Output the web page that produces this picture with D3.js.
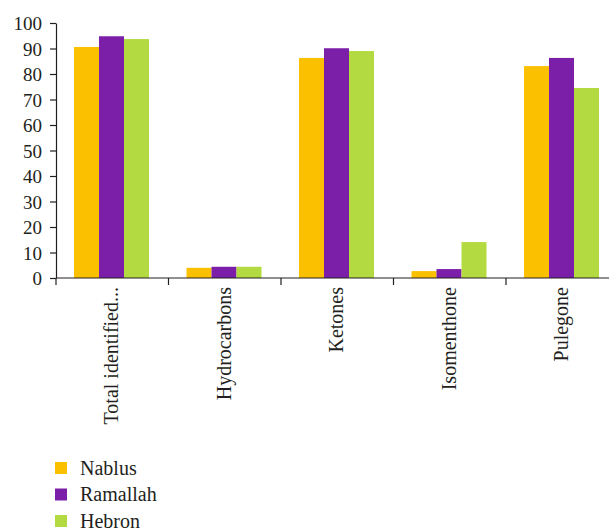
<!DOCTYPE html>
<html><head><meta charset="utf-8">
<script src="https://cdn.jsdelivr.net/npm/d3@7"></script>
<style>body{margin:0;background:#fff}svg{display:block}</style>
</head><body>
<svg id="c" width="609" height="528"></svg>
<script>
const categories = ["Total identified...", "Hydrocarbons", "Ketones", "Isomenthone", "Pulegone"];
const seriesNames = ["Nablus", "Ramallah", "Hebron"];
const nablus = [90.6, 4.0, 86.3, 2.7, 83.1];
const ramallah = [94.8, 4.4, 90.1, 3.5, 86.3];
const hebron = [93.7, 4.4, 89.0, 14.1, 74.5];
const yTicks = [0,10,20,30,40,50,60,70,80,90,100];
const colors = ["#FBC100", "#7B1FA8", "#B3DB41"];
const series = [nablus, ramallah, hebron];
const FONT = '"Liberation Serif", "Times New Roman", serif';
const INK = "#231f20";

const svg = d3.select("#c");
const x0 = d3.scaleBand().domain(categories).range([56, 618.5]);
const x1 = d3.scaleBand().domain(seriesNames).range([18, 93]);
const y = d3.scaleLinear().domain([0, 100]).range([278, 23]);

const g = svg.append("g");
categories.forEach((c, i) => {
  seriesNames.forEach((s, j) => {
    g.append("rect")
      .attr("x", x0(c) + x1(s))
      .attr("y", y(series[j][i]))
      .attr("width", x1.bandwidth())
      .attr("height", y(0) - y(series[j][i]))
      .attr("fill", colors[j]);
  });
});

// y axis
const ya = svg.append("g").attr("transform", "translate(56,0)")
  .call(d3.axisLeft(y).tickValues(yTicks).tickSize(6).tickSizeOuter(0));
ya.select(".domain").attr("stroke", INK).attr("stroke-width", 1.2);
ya.selectAll(".tick line").attr("stroke", INK).attr("stroke-width", 1.2);
ya.selectAll(".tick text").attr("x", -14).attr("dy", "0.35em")
  .style("font-size", "19px").style("font-family", FONT).attr("fill", INK);

// x axis
const xa = svg.append("g").attr("transform", "translate(0,278)");
xa.append("line").attr("x1", 56).attr("x2", 618.5).attr("y1", 0).attr("y2", 0)
  .attr("stroke", INK).attr("stroke-width", 1.2);
categories.forEach(c => {
  xa.append("line").attr("x1", x0(c)).attr("x2", x0(c)).attr("y1", 0).attr("y2", 7)
    .attr("stroke", INK).attr("stroke-width", 1.2);
  xa.append("text")
    .attr("transform", `translate(${x0(c) + x0.bandwidth()/2 + 6},${9}) rotate(-90)`)
    .attr("text-anchor", "end")
    .style("font-size", "20px").style("font-family", FONT).attr("fill", INK)
    .text(c);
});

// legend
const lg = svg.append("g");
seriesNames.forEach((s, j) => {
  lg.append("rect").attr("x", 55).attr("y", 462 + j*26.5).attr("width", 12).attr("height", 12).attr("fill", colors[j]);
  lg.append("text").attr("x", 80).attr("y", 474.5 + j*26.5)
    .style("font-size", "20px").style("font-family", FONT).attr("fill", INK).text(s);
});
</script>
</body></html>
